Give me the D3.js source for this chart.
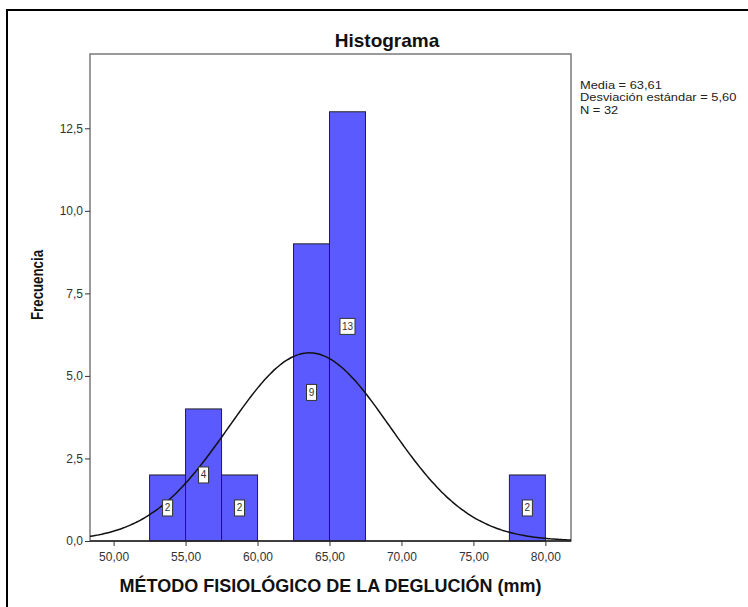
<!DOCTYPE html>
<html>
<head>
<meta charset="utf-8">
<script src="https://cdn.jsdelivr.net/npm/d3@7"></script>
<style>
  body { margin: 0; background: #fff; }
  text { font-family: Arial, "Liberation Sans", sans-serif; }
</style>
</head>
<body>
<div id="chart"></div>
<script>
// Histogram data
let binStarts = [52.5, 55, 57.5, 62.5, 65, 77.5];
let counts = [2, 4, 2, 9, 13, 2];
let binWidth = 2.5;
let xTicks = [50, 55, 60, 65, 70, 75, 80];
let yTicks = [0, 2.5, 5, 7.5, 10, 12.5];
let statMean = 63.61;
let statSd = 5.60;
let statN = 32;

let svgWidth = 748;
let svgHeight = 607;

// plot area box
let plot = { left: 90, right: 571, top: 54, bottom: 541 };

let svg = d3.select("#chart")
    .append("svg")
    .attr("width", svgWidth)
    .attr("height", svgHeight);

// outer frame (only left/top edges are in view)
svg.append("path")
    .attr("d", `M7,${svgHeight + 5}V10H${svgWidth + 5}`)
    .attr("fill", "none")
    .attr("stroke", "#000")
    .attr("stroke-width", 2);

let fmt = v => d3.format(".2f")(v).replace(".", ",");
let fmtY = v => d3.format(".1f")(v).replace(".", ",");

let xScale = d3.scaleLinear()
    .domain([48.36, 81.78])
    .range([plot.left, plot.right]);

let yScale = d3.scaleLinear()
    .domain([0, 14.75])
    .range([plot.bottom, plot.top]);

// title
svg.append("text")
    .attr("x", 387)
    .attr("y", 47)
    .attr("text-anchor", "middle")
    .attr("font-size", "19px")
    .attr("font-weight", "bold")
    .attr("fill", "#111")
    .text("Histograma");

// plot frame
svg.append("rect")
    .attr("x", plot.left)
    .attr("y", plot.top)
    .attr("width", plot.right - plot.left)
    .attr("height", plot.bottom - plot.top)
    .attr("fill", "#fff")
    .attr("stroke", "#7a7a7a")
    .attr("stroke-width", 1.5);

// bars
svg.selectAll("rect.bar")
    .data(counts)
    .enter()
    .append("rect")
    .attr("class", "bar")
    .attr("x", (d, i) => xScale(binStarts[i]))
    .attr("y", d => yScale(d))
    .attr("width", (d, i) => xScale(binStarts[i] + binWidth) - xScale(binStarts[i]))
    .attr("height", d => yScale(0) - yScale(d))
    .attr("fill", "#5a5aff")
    .attr("stroke", "#222")
    .attr("stroke-width", 1);

// normal curve from the stated mean / sd
svg.append("clipPath").attr("id", "plotclip")
    .append("rect")
    .attr("x", plot.left)
    .attr("y", plot.top)
    .attr("width", plot.right - plot.left)
    .attr("height", plot.bottom - plot.top);

let curveX = d3.range(0, 201).map(i => xScale.domain()[0] + i * (xScale.domain()[1] - xScale.domain()[0]) / 200);
let pdf = x => statN * binWidth / (statSd * Math.sqrt(2 * Math.PI)) * Math.exp(-0.5 * Math.pow((x - statMean) / statSd, 2));

svg.append("path")
    .datum(curveX)
    .attr("clip-path", "url(#plotclip)")
    .attr("d", d3.line().x(d => xScale(d)).y(d => yScale(pdf(d))).curve(d3.curveBasis))
    .attr("fill", "none")
    .attr("stroke", "#111")
    .attr("stroke-width", 1.5);

// count labels in the middle of each bar
let labels = svg.selectAll("g.lbl")
    .data(counts)
    .enter()
    .append("g")
    .attr("class", "lbl")
    .attr("transform", (d, i) => `translate(${xScale(binStarts[i] + binWidth / 2)},${yScale(d / 2)})`);

labels.append("rect")
    .attr("x", d => String(d).length > 1 ? -7.5 : -5)
    .attr("y", -8)
    .attr("width", d => String(d).length > 1 ? 15 : 10)
    .attr("height", 16)
    .attr("fill", "#fff")
    .attr("stroke", "#333")
    .attr("stroke-width", 1);

labels.append("text")
    .attr("y", 3.5)
    .attr("text-anchor", "middle")
    .attr("font-size", "10px")
    .attr("fill", "#333")
    .text(d => d);

// x axis
let bottomAxis = d3.axisBottom(xScale)
    .tickValues(xTicks)
    .tickSize(5)
    .tickPadding(6)
    .tickFormat(fmt);

let xAxis = svg.append("g")
    .attr("transform", `translate(0,${plot.bottom})`)
    .call(bottomAxis);
xAxis.select(".domain").attr("stroke", "#222").attr("stroke-width", 1.5)
    .attr("d", `M${plot.left},0H${plot.right}`);
xAxis.selectAll(".tick line").attr("stroke", "#333");
xAxis.selectAll(".tick text")
    .attr("font-size", "12px")
    .attr("font-family", "Arial, 'Liberation Sans', sans-serif")
    .attr("fill", "#333");

// y axis
let leftAxis = d3.axisLeft(yScale)
    .tickValues(yTicks)
    .tickSize(5)
    .tickPadding(2)
    .tickFormat(fmtY);

let yAxis = svg.append("g")
    .attr("transform", `translate(${plot.left},0)`)
    .call(leftAxis);
yAxis.select(".domain").remove();
yAxis.selectAll(".tick line").attr("stroke", "#333");
yAxis.selectAll(".tick text")
    .attr("font-size", "12px")
    .attr("font-family", "Arial, 'Liberation Sans', sans-serif")
    .attr("fill", "#333");

// axis titles
svg.append("text")
    .attr("x", (plot.left + plot.right) / 2)
    .attr("y", 592)
    .attr("text-anchor", "middle")
    .attr("font-size", "18px")
    .attr("font-weight", "bold")
    .attr("fill", "#111")
    .text("MÉTODO FISIOLÓGICO DE LA DEGLUCIÓN (mm)");

// y title is squeezed along its length, like the reference
svg.append("text")
    .attr("transform", `translate(43,285) rotate(-90)`)
    .attr("x", -35)
    .attr("textLength", 70)
    .attr("lengthAdjust", "spacingAndGlyphs")
    .attr("font-size", "17px")
    .attr("font-weight", "bold")
    .attr("fill", "#111")
    .text("Frecuencia");

// stats box text (slightly wide, as in the reference)
let statLines = [
    "Media = " + fmt(statMean),
    "Desviación estándar = " + fmt(statSd),
    "N = " + statN
];
let statGroup = svg.append("g")
    .attr("transform", "translate(580,0) scale(1.17,1)");
statGroup.selectAll("text.stat")
    .data(statLines)
    .enter()
    .append("text")
    .attr("class", "stat")
    .attr("x", 0)
    .attr("y", (d, i) => 89 + i * 12.5)
    .attr("font-size", "11px")
    .attr("fill", "#222")
    .text(d => d);
</script>
</body>
</html>
